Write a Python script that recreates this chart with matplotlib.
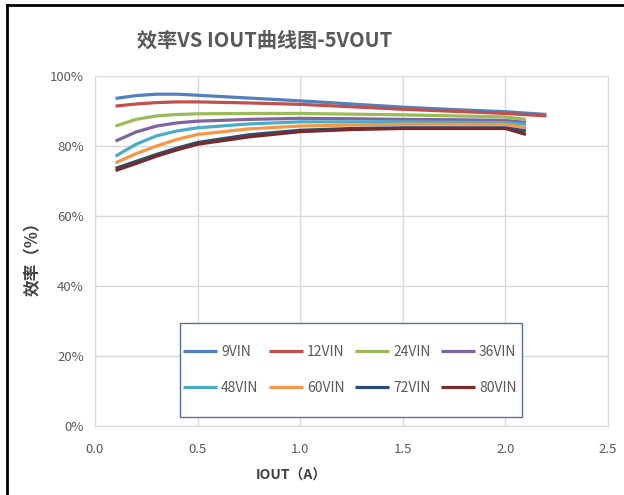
import matplotlib
matplotlib.use("Agg")
import matplotlib.pyplot as plt
from matplotlib.lines import Line2D
from matplotlib.patches import Rectangle

plt.rcParams['font.family'] = ['Noto Sans CJK SC', 'DejaVu Sans']

title = "效率VS IOUT曲线图-5VOUT"
xlabel = "IOUT（A）"
ylabel = "效率（%）"

x_long = [0.1, 0.2, 0.3, 0.4, 0.5, 0.75, 1.0, 1.25, 1.5, 1.75, 2.0, 2.2]
x_short = [0.1, 0.2, 0.3, 0.4, 0.5, 0.75, 1.0, 1.25, 1.5, 1.75, 2.0, 2.1]

series_names = ["9VIN", "12VIN", "24VIN", "36VIN", "48VIN", "60VIN", "72VIN", "80VIN"]
eff_9 = [93.6, 94.4, 94.8, 94.8, 94.5, 93.7, 92.9, 92.0, 91.1, 90.4, 89.8, 89.0]
eff_12 = [91.4, 92.0, 92.4, 92.6, 92.6, 92.3, 91.9, 91.2, 90.5, 89.9, 89.3, 88.6]
eff_24 = [85.7, 87.6, 88.6, 89.0, 89.2, 89.3, 89.3, 89.1, 88.9, 88.6, 88.3, 87.6]
eff_36 = [81.4, 84.0, 85.7, 86.6, 87.1, 87.6, 87.9, 87.8, 87.6, 87.5, 87.3, 86.7]
eff_48 = [77.1, 80.5, 82.9, 84.3, 85.2, 86.3, 86.9, 86.9, 86.9, 86.8, 86.7, 86.2]
eff_60 = [75.2, 77.8, 80.0, 81.9, 83.3, 84.9, 85.7, 86.0, 86.2, 86.2, 86.2, 85.2]
eff_72 = [73.6, 75.6, 77.6, 79.4, 81.0, 83.2, 84.5, 85.0, 85.2, 85.2, 85.2, 84.3]
eff_80 = [73.0, 75.0, 77.1, 78.9, 80.5, 82.6, 84.1, 84.7, 85.0, 85.0, 85.0, 83.3]

series_x = [x_long, x_long, x_short, x_short, x_short, x_short, x_short, x_short]
series_y = [eff_9, eff_12, eff_24, eff_36, eff_48, eff_60, eff_72, eff_80]
colors = ["#4F81BD", "#C0504D", "#9BBB59", "#8064A2", "#4BACC6", "#F79646", "#2C4D75", "#772C2A"]

xticks = [0.0, 0.5, 1.0, 1.5, 2.0, 2.5]
yticks = [0, 20, 40, 60, 80, 100]

W, H = 624, 495
fig = plt.figure(figsize=(W / 100, H / 100), dpi=100)
ax = fig.add_axes([95 / W, 1 - 426 / H, (608 - 95) / W, (426 - 76) / H])

handles = []
for xs, ys, c, n in zip(series_x, series_y, colors, series_names):
    h, = ax.plot(xs, ys, color=c, lw=2.3, label=n, solid_capstyle='butt')
    handles.append(h)

ax.set_xlim(0, 2.5)
ax.set_ylim(0, 100)
ax.set_xticks(xticks)
ax.set_xticklabels([f"{t:.1f}" for t in xticks])
ax.set_yticks(yticks)
ax.set_yticklabels([f"{t}%" for t in yticks])
ax.grid(True, color="#D9D9D9", lw=1)
ax.set_axisbelow(True)
for s in ax.spines.values():
    s.set_color("#D9D9D9")
ax.tick_params(length=0, colors="#595959", labelsize=9.5, pad=8)
ax.tick_params(axis='x', pad=12)

fig.text(265 / W, 1 - 40 / H, title, ha='center', va='center', fontsize=14.5,
         color="#595959", fontweight='bold')
fig.text(291 / W, 1 - 476 / H, xlabel, ha='center', va='center', fontsize=10,
         color="#404040", fontweight='bold')
fig.text(33 / W, 1 - 255 / H, ylabel, ha='center', va='center', fontsize=12,
         color="#404040", fontweight='bold', rotation=90)

# legend box (white background with border)
fig.add_artist(Rectangle((180 / W, 1 - 417 / H), 342 / W, 94 / H, transform=fig.transFigure,
                         facecolor='white', edgecolor="#5A7090", lw=1.0, zorder=3))

# row-wise legend order for a 4-column, 2-row layout
order = [0, 4, 1, 5, 2, 6, 3, 7]
leg = fig.legend([handles[i] for i in order], [series_names[i] for i in order],
                 loc='center', bbox_to_anchor=(182 / W, 1 - 417 / H, 336 / W, 94 / H),
                 mode='expand', ncol=4, fontsize=10,
                 frameon=False, handlelength=2.4, handletextpad=0.3,
                 columnspacing=0.4, labelspacing=1.6, borderaxespad=0, borderpad=0.1)
leg.set_zorder(5)
for t in leg.get_texts():
    t.set_color("#595959")

fig.add_artist(Line2D([6.5 / W, 6.5 / W], [0, 1 - 5 / H], transform=fig.transFigure, color='black', lw=2))
fig.add_artist(Line2D([6.5 / W, 1], [1 - 5 / H, 1 - 5 / H], transform=fig.transFigure, color='black', lw=2))

fig.savefig("out.png", dpi=100)
